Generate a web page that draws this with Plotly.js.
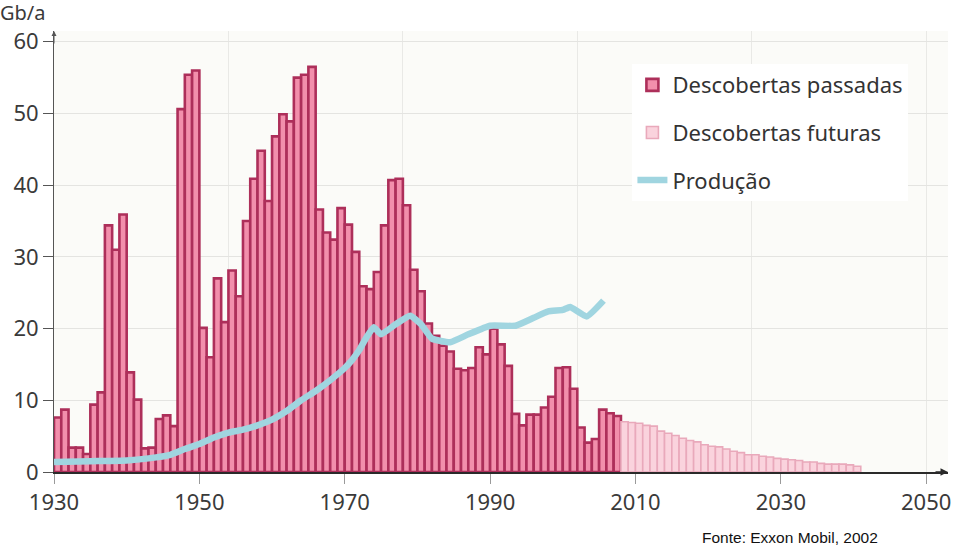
<!DOCTYPE html>
<html>
<head>
<meta charset="utf-8">
<script src="https://cdn.plot.ly/plotly-3.0.1.min.js"></script>
<style>
  html, body { margin: 0; padding: 0; background: #ffffff; }
  #chart { width: 960px; height: 545px; }
</style>
</head>
<body>
<div id="chart"></div>
<script>
// Past discoveries (Gb/a), one bar per year
const pastYears = [];
for (let y = 1930; y <= 2007; y++) pastYears.push(y);
const pastValues = [
  7.6, 8.7, 3.4, 3.4, 2.5, 9.4, 11.1, 34.4, 31.0, 35.9,   // 1930-1939
  13.9, 10.1, 3.3, 3.4, 7.4, 7.9, 6.4, 50.6, 55.4, 56.0,  // 1940-1949
  20.1, 16.0, 27.0, 20.9, 28.1, 24.5, 35.0, 40.9, 44.8, 37.8, // 1950-1959
  46.8, 49.9, 48.9, 55.0, 55.4, 56.5, 36.6, 33.4, 32.4, 36.8, // 1960-1969
  34.5, 30.7, 25.9, 25.5, 27.9, 34.4, 40.7, 40.9, 37.2, 28.2, // 1970-1979
  25.2, 20.7, 19.0, 17.6, 16.8, 14.4, 14.2, 14.5, 17.4, 16.4, // 1980-1989
  20.0, 17.8, 14.8, 8.1, 6.5, 8.0, 8.0, 9.0, 10.5, 14.5,      // 1990-1999
  14.6, 11.6, 6.2, 4.1, 4.6, 8.7, 8.2, 7.8                    // 2000-2007
];

// Future discoveries (Gb/a)
const futureYears = [];
for (let y = 2008; y <= 2040; y++) futureYears.push(y);
const futureValues = [
  7.0, 6.9, 6.8, 6.5, 6.4, 5.7, 5.4, 5.1, 4.7, 4.4,  // 2008-2017
  4.2, 3.8, 3.6, 3.5, 3.2, 2.9, 2.7, 2.4, 2.4, 2.2,  // 2018-2027
  2.1, 1.9, 1.8, 1.7, 1.6, 1.4, 1.4, 1.2, 1.1, 1.1,  // 2028-2037
  1.1, 1.0, 0.8                                      // 2038-2040
];

// Production (Gb/a)
const prodYears = [1930, 1935, 1940, 1943, 1946, 1948, 1950, 1952, 1954, 1956,
  1958, 1960, 1962, 1964, 1966, 1968, 1970, 1971, 1972, 1973, 1974, 1975,
  1977, 1979, 1980.5, 1982, 1984.5, 1987, 1990, 1993.5, 1996, 1998, 2000,
  2001, 2003.3, 2005.6];
const prodValues = [1.4, 1.5, 1.6, 1.9, 2.4, 3.2, 3.9, 4.8, 5.5, 5.9,
  6.5, 7.3, 8.5, 10.0, 11.3, 12.8, 14.5, 15.6, 17.0, 18.8, 20.2, 19.2,
  20.6, 21.8, 20.6, 18.6, 18.1, 19.2, 20.4, 20.4, 21.5, 22.4, 22.6,
  23.0, 21.7, 23.9];

const xTicks = [1930, 1950, 1970, 1990, 2010, 2030, 2050];
const yTicks = [0, 10, 20, 30, 40, 50, 60];

const traces = [
  {
    type: 'bar',
    name: 'Descobertas passadas',
    legendgroup: 'a',
    x: pastYears.map(y => y + 0.5),
    y: pastValues,
    width: 1,
    marker: { color: '#f28fac', line: { color: '#ad2f5a', width: 2.6 } },
    hoverinfo: 'x+y'
  },
  {
    type: 'bar',
    name: 'Descobertas futuras',
    legendgroup: 'b',
    x: futureYears.map(y => y + 0.5),
    y: futureValues,
    width: 1,
    marker: { color: '#fad3dd', line: { color: '#e9a9bb', width: 1.6 } },
    hoverinfo: 'x+y'
  },
  {
    type: 'scatter',
    mode: 'lines',
    name: 'Produção',
    legendgroup: 'c',
    x: prodYears,
    y: prodValues,
    line: { color: '#a0d5e0', width: 6.5, shape: 'spline', smoothing: 0.4 },
    hoverinfo: 'x+y'
  }
];

const font = { family: '"Noto Sans", "DejaVu Sans", sans-serif', color: '#3a3a3a' };

const layout = {
  width: 960,
  height: 545,
  margin: { l: 54, r: 12, t: 31, b: 73 },
  paper_bgcolor: '#ffffff',
  plot_bgcolor: '#fbfbf8',
  font: font,
  barmode: 'overlay',
  showlegend: true,
  legend: {
    x: 0.647, y: 0.925, xanchor: 'left', yanchor: 'top',
    bgcolor: '#ffffff',
    borderwidth: 0,
    font: { family: font.family, size: 22, color: '#333333' },
    traceorder: 'grouped',
    tracegroupgap: 16
  },
  xaxis: {
    range: [1930, 2053],
    tickmode: 'array',
    tickvals: xTicks,
    ticktext: xTicks.map(String),
    ticks: 'outside',
    ticklen: 10,
    tickcolor: '#9a9a9a',
    tickfont: { family: font.family, size: 22, color: '#3a3a3a' },
    showgrid: false,
    minor: { tickmode: 'linear', tick0: 1930, dtick: 24, showgrid: true, gridcolor: '#e9e9e6', gridwidth: 1, ticks: '' },
    showline: true,
    linecolor: '#2a2a2a',
    linewidth: 2,
    zeroline: false,
    fixedrange: true
  },
  yaxis: {
    range: [0, 61.5],
    tickmode: 'array',
    tickvals: yTicks,
    ticktext: yTicks.map(String),
    ticks: 'outside',
    ticklen: 10,
    tickcolor: '#555555',
    tickfont: { family: font.family, size: 22, color: '#3a3a3a' },
    showgrid: true,
    gridcolor: '#e4e4e1',
    gridwidth: 1,
    showline: true,
    linecolor: '#555555',
    linewidth: 1,
    zeroline: false,
    fixedrange: true
  },
  annotations: [
    {
      xref: 'paper', yref: 'paper', x: -0.062, y: 1.008,
      xanchor: 'left', yanchor: 'bottom', borderpad: 0,
      text: 'Gb/a', showarrow: false,
      font: { family: font.family, size: 20, color: '#3a3a3a' }
    },
    {
      xref: 'paper', yref: 'paper', x: 0.823, y: -0.148,
      xanchor: 'center', yanchor: 'middle',
      text: 'Fonte: Exxon Mobil, 2002', showarrow: false,
      font: { family: 'Liberation Sans, Arial, sans-serif', size: 15.5, color: '#111111' }
    },
    {
      xref: 'x', yref: 'paper', x: 1930, y: 1.0, ax: 0, ay: 14,
      text: '', showarrow: true, arrowhead: 2, arrowsize: 1, arrowwidth: 1, arrowcolor: '#555555'
    },
    {
      xref: 'paper', yref: 'y', x: 1.0, y: 0, ax: -14, ay: 0,
      text: '', showarrow: true, arrowhead: 2, arrowsize: 1, arrowwidth: 1.5, arrowcolor: '#2a2a2a'
    }
  ]
};

Plotly.newPlot('chart', traces, layout, { displayModeBar: false, staticPlot: true });
</script>
</body>
</html>
